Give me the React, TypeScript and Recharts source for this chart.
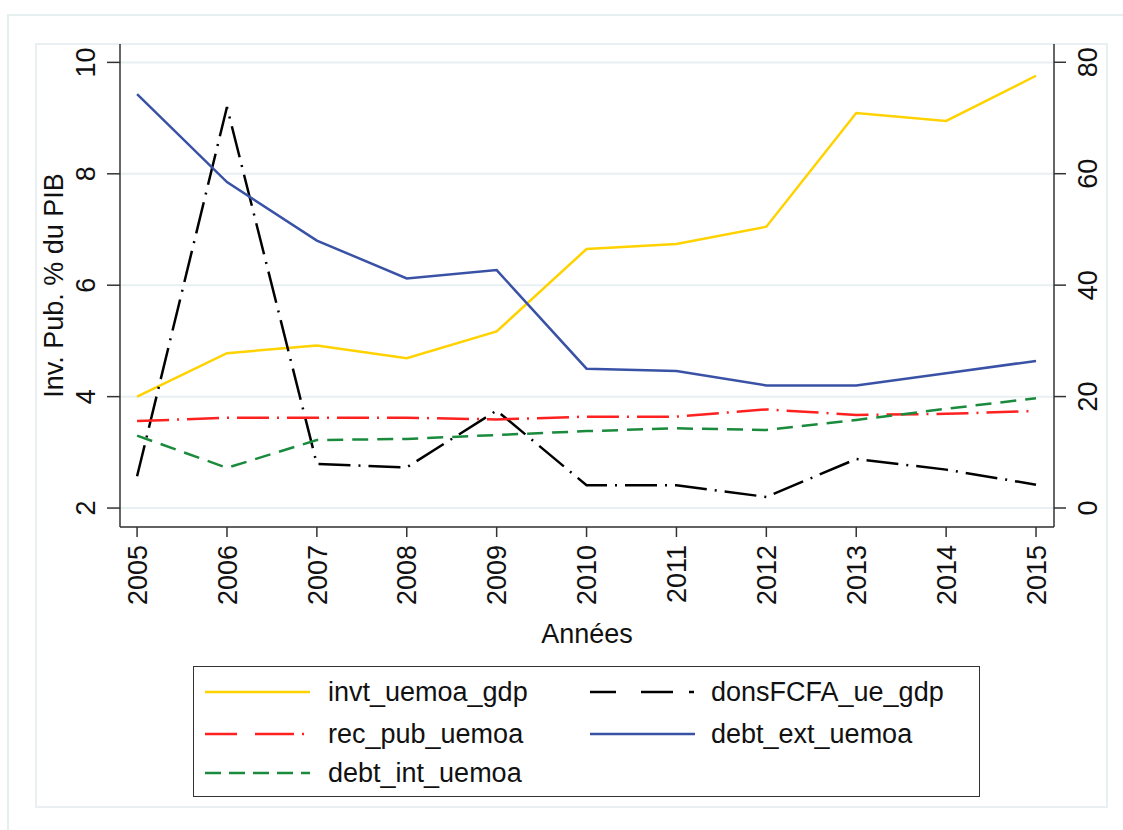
import React from 'react';
import { LineChart, Line, XAxis, YAxis, CartesianGrid, Label } from 'recharts';

// years on the x axis
const years = [2005, 2006, 2007, 2008, 2009, 2010, 2011, 2012, 2013, 2014, 2015];

// left axis series (% du PIB)
const invtUemoaGdp = [4.0, 4.78, 4.92, 4.69, 5.17, 6.65, 6.74, 7.05, 9.09, 8.95, 9.76];
const donsFcfaUeGdp = [2.57, 9.2, 2.79, 2.73, 3.75, 2.41, 2.41, 2.2, 2.88, 2.69, 2.42];

// right axis series
const recPubUemoa = [15.6, 16.2, 16.2, 16.2, 15.9, 16.4, 16.4, 17.7, 16.7, 16.9, 17.4];
const debtExtUemoa = [74.3, 58.5, 48.0, 41.2, 42.7, 25.0, 24.6, 22.0, 22.0, 24.2, 26.4];
const debtIntUemoa = [13.0, 7.2, 12.2, 12.4, 13.1, 13.8, 14.3, 14.0, 15.8, 17.8, 19.7];

const leftTicks = [2, 4, 6, 8, 10];
const rightTicks = [0, 20, 40, 60, 80];

const data = years.map((year, i) => ({
  year,
  invt_uemoa_gdp: invtUemoaGdp[i],
  donsFCFA_ue_gdp: donsFcfaUeGdp[i],
  rec_pub_uemoa: recPubUemoa[i],
  debt_ext_uemoa: debtExtUemoa[i],
  debt_int_uemoa: debtIntUemoa[i],
}));

// legend order (row-wise, 2 columns)
const series = [
  { key: 'invt_uemoa_gdp', color: '#FFD200', dash: undefined, legendDash: undefined, axis: 'left' },
  { key: 'donsFCFA_ue_gdp', color: '#000000', dash: '32 8 2 8', legendDash: '26 25 32 16 5 100', axis: 'left' },
  { key: 'rec_pub_uemoa', color: '#FF2020', dash: '32 8 2 8', legendDash: '32 18 39 8 2 100', axis: 'right' },
  { key: 'debt_ext_uemoa', color: '#3A52A6', dash: undefined, legendDash: undefined, axis: 'right' },
  { key: 'debt_int_uemoa', color: '#1A8A3C', dash: '16 9', legendDash: '16 8', axis: 'right' },
];

const FONT = '"Liberation Sans", Arial, sans-serif';
const FS = 27;
const AXIS = '#333333';

const XTick = (props: any) => {
  const { x, y, payload } = props;
  return (
    <g transform={`translate(${x},${y})`}>
      <text transform="rotate(-90)" textAnchor="end" dy="0.36em" fontFamily={FONT} fontSize={FS} fill="#111">
        {payload.value}
      </text>
    </g>
  );
};

const LeftTick = (props: any) => {
  const { x, y, payload } = props;
  return (
    <g transform={`translate(${x},${y})`}>
      <text transform="rotate(-90)" textAnchor="middle" fontFamily={FONT} fontSize={FS} fill="#111">
        {payload.value}
      </text>
    </g>
  );
};

const RightTick = (props: any) => {
  const { x, y, payload } = props;
  return (
    <g transform={`translate(${x},${y})`}>
      <text transform="rotate(-90)" textAnchor="middle" dy="0.72em" fontFamily={FONT} fontSize={FS} fill="#111">
        {payload.value}
      </text>
    </g>
  );
};

const LegendBox = () => {
  const rows = [26, 68, 107];
  const cols = [
    { lx: 12, tx: 135 },
    { lx: 397, tx: 518 },
  ];
  return (
    <div
      style={{
        position: 'absolute',
        left: 193,
        top: 666,
        width: 787,
        height: 131,
        border: `1.5px solid ${AXIS}`,
        boxSizing: 'border-box',
        background: '#fff',
      }}
    >
      <svg width={787} height={131} style={{ position: 'absolute', left: -1.5, top: -1.5 }}>
        {series.map((s, i) => {
          const r = rows[Math.floor(i / 2)];
          const c = cols[i % 2];
          return (
            <g key={s.key}>
              <line
                x1={c.lx}
                x2={c.lx + 105}
                y1={r}
                y2={r}
                stroke={s.color}
                strokeWidth={2.5}
                strokeDasharray={s.legendDash}
              />
              <text x={c.tx} y={r} dy="0.35em" fontFamily={FONT} fontSize={FS} fill="#111">
                {s.key}
              </text>
            </g>
          );
        })}
      </svg>
    </div>
  );
};

export default function App() {
  return (
    <div style={{ position: 'absolute', left: 0, top: 0, width: 1123, height: 830, background: '#fff', overflow: 'hidden' }}>
      <svg width={1123} height={830} style={{ position: 'absolute', left: 0, top: 0 }}>
        <rect x={8} y={15} width={1130} height={830} fill="none" stroke="#E6EEF0" strokeWidth={2} />
        <rect x={36} y={44} width={1071} height={763} fill="none" stroke="#EAF0F2" strokeWidth={2} />
      </svg>
      <div style={{ position: 'absolute', left: 0, top: 0 }}>
        <LineChart width={1123} height={830} data={data} margin={{ top: 44, right: 16, bottom: 203, left: 36 }}>
          <CartesianGrid yAxisId="left" vertical={false} stroke="#E8F0F2" strokeWidth={2} />
          <XAxis
            dataKey="year"
            type="number"
            domain={[2004.81, 2015.2]}
            ticks={years}
            allowDataOverflow
            height={100}
            tickSize={10}
            tickMargin={8}
            tick={<XTick />}
            axisLine={{ stroke: AXIS, strokeWidth: 1.5 }}
            tickLine={{ stroke: AXIS, strokeWidth: 1.5 }}
          >
            <Label
              content={() => (
                <text x={587} y={643} textAnchor="middle" fontFamily={FONT} fontSize={FS} fill="#111">
                  Années
                </text>
              )}
            />
          </XAxis>
          <YAxis
            yAxisId="left"
            orientation="left"
            width={84}
            domain={[1.66, 10.33]}
            ticks={leftTicks}
            allowDataOverflow
            tickSize={13}
            tickMargin={12}
            tick={<LeftTick />}
            axisLine={{ stroke: AXIS, strokeWidth: 1.5 }}
            tickLine={{ stroke: AXIS, strokeWidth: 1.5 }}
          >
            <Label
              content={() => (
                <g transform="translate(63,285.5)">
                  <text transform="rotate(-90)" textAnchor="middle" fontFamily={FONT} fontSize={FS} fill="#111">
                    Inv. Pub. % du PIB
                  </text>
                </g>
              )}
            />
          </YAxis>
          <YAxis
            yAxisId="right"
            orientation="right"
            width={53}
            domain={[-3.41, 83.28]}
            ticks={rightTicks}
            allowDataOverflow
            tickSize={12}
            tickMargin={12}
            tick={<RightTick />}
            axisLine={{ stroke: AXIS, strokeWidth: 1.5 }}
            tickLine={{ stroke: AXIS, strokeWidth: 1.5 }}
          />
          {series.map(s => (
            <Line
              key={s.key}
              yAxisId={s.axis}
              type="linear"
              dataKey={s.key}
              stroke={s.color}
              strokeWidth={2.5}
              strokeDasharray={s.dash}
              dot={false}
              activeDot={false}
              isAnimationActive={false}
            />
          ))}
        </LineChart>
      </div>
      <LegendBox />
    </div>
  );
}
